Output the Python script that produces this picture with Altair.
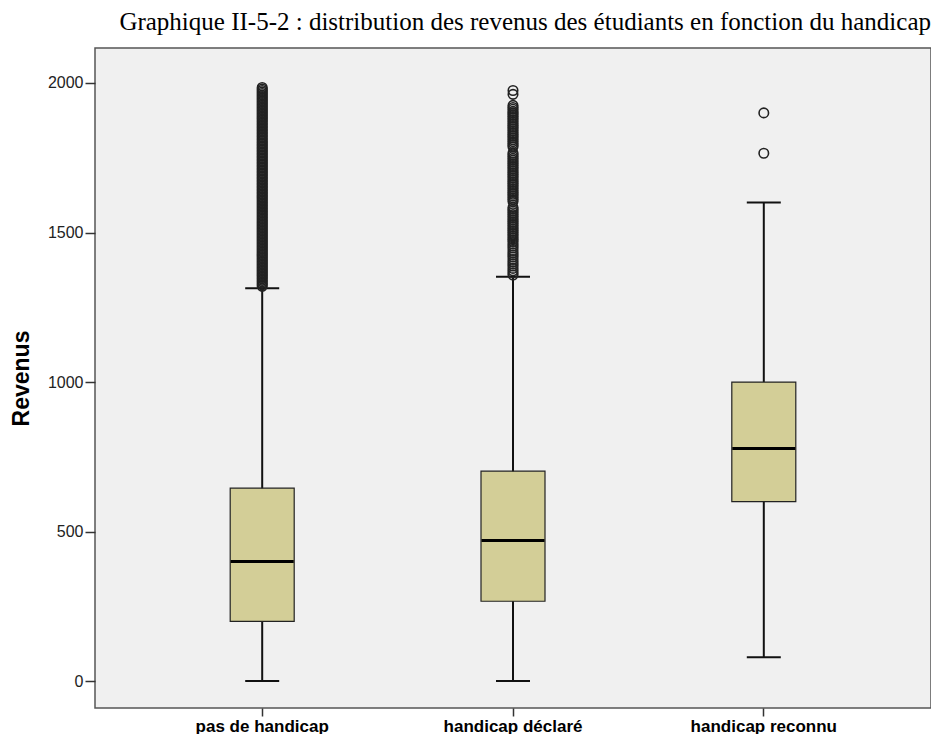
import altair as alt
import pandas as pd

categories = ["pas de handicap", "handicap déclaré", "handicap reconnu"]
whisker_low = [0, 0, 80]
q1 = [200, 267, 600]
median = [400, 470, 778]
q3 = [645, 702, 1000]
whisker_high = [1314, 1352, 1600]

outliers_pas = [1320, 1325, 1330, 1335, 1340, 1345, 1350, 1355, 1360, 1365, 1370,
                1375, 1380, 1385, 1390, 1395, 1400, 1405, 1410, 1415, 1420, 1425,
                1430, 1435, 1440, 1445, 1450, 1455, 1460, 1465, 1470, 1475, 1480,
                1485, 1490, 1495, 1500, 1505, 1510, 1515, 1520, 1525, 1530, 1535,
                1540, 1545, 1550, 1555, 1560, 1565, 1570, 1575, 1580, 1585, 1590,
                1595, 1600, 1605, 1610, 1615, 1620, 1625, 1630, 1635, 1640, 1645,
                1650, 1655, 1660, 1665, 1670, 1675, 1680, 1685, 1690, 1695, 1700,
                1705, 1710, 1715, 1720, 1725, 1730, 1735, 1740, 1745, 1750, 1755,
                1760, 1765, 1770, 1775, 1780, 1785, 1790, 1795, 1800, 1805, 1810,
                1815, 1820, 1825, 1830, 1835, 1840, 1845, 1850, 1855, 1860, 1865,
                1870, 1875, 1880, 1885, 1890, 1895, 1900, 1905, 1910, 1915, 1920,
                1925, 1930, 1935, 1940, 1945, 1950, 1955, 1960, 1965, 1970, 1975,
                1980, 1985]
outliers_declare = [1975, 1962, 1925, 1918, 1912, 1905, 1900, 1894, 1888, 1882,
                    1876, 1870, 1864, 1858, 1852, 1846, 1840, 1834, 1828, 1822,
                    1816, 1810, 1804, 1798, 1792, 1786, 1766, 1760, 1754, 1748,
                    1742, 1736, 1730, 1724, 1718, 1712, 1706, 1700, 1694, 1688,
                    1682, 1676, 1670, 1664, 1658, 1652, 1646, 1640, 1634, 1628,
                    1622, 1616, 1610, 1604, 1584, 1578, 1572, 1566, 1560, 1554,
                    1548, 1542, 1536, 1530, 1524, 1518, 1512, 1506, 1500, 1494,
                    1488, 1482, 1476, 1470, 1462, 1455, 1448, 1440, 1432, 1425,
                    1418, 1410, 1402, 1395, 1388, 1380, 1372, 1365, 1358]
outliers_reconnu = [1900, 1765]

stats = pd.DataFrame({
    "cat": categories, "low": whisker_low, "q1": q1, "med": median,
    "q3": q3, "high": whisker_high,
})
out = pd.DataFrame({
    "cat": [categories[0]] * len(outliers_pas)
    + [categories[1]] * len(outliers_declare)
    + [categories[2]] * len(outliers_reconnu),
    "val": outliers_pas + outliers_declare + outliers_reconnu,
})

xscale = alt.Scale(domain=categories, paddingInner=0, paddingOuter=1 / 6)
yscale = alt.Scale(domain=[-90, 2117], nice=False, zero=False)

xenc = alt.X("cat:N", scale=xscale, sort=categories,
             axis=alt.Axis(title=None, labelAngle=0, labelFont="Liberation Sans",
                           labelFontSize=17, labelFontWeight="bold",
                           labelColor="#000", labelPadding=2, tickSize=8,
                           tickWidth=1.5, tickColor="#333", domain=False))
yaxis = alt.Axis(title="Revenus", values=[0, 500, 1000, 1500, 2000], format="d",
                 labelFont="Liberation Sans", labelFontSize=16, labelColor="#222",
                 labelPadding=2, tickSize=10, tickWidth=1.5, tickColor="#333",
                 domain=False, grid=False, titleFont="Liberation Sans",
                 titleFontSize=23, titleFontWeight="bold", titleColor="#000",
                 titlePadding=14)

base = alt.Chart(stats)

whisker = base.mark_rule(color="#111", strokeWidth=2).encode(
    x=xenc,
    y=alt.Y("low:Q", scale=yscale, axis=yaxis),
    y2="high:Q",
)
cap_low = base.mark_tick(color="#111", size=34, thickness=2, opacity=1,
                         orient="horizontal").encode(
    x=alt.X("cat:N", scale=xscale, sort=categories), y=alt.Y("low:Q", scale=yscale))
cap_high = base.mark_tick(color="#111", size=34, thickness=2, opacity=1,
                          orient="horizontal").encode(
    x=alt.X("cat:N", scale=xscale, sort=categories), y=alt.Y("high:Q", scale=yscale))
box = base.mark_bar(size=64, fill="#d3ce97", stroke="#222", strokeWidth=1.2,
                    opacity=1).encode(
    x=alt.X("cat:N", scale=xscale, sort=categories),
    y=alt.Y("q1:Q", scale=yscale), y2="q3:Q")
med = base.mark_tick(color="#000", size=63, thickness=3, opacity=1,
                     orient="horizontal").encode(
    x=alt.X("cat:N", scale=xscale, sort=categories), y=alt.Y("med:Q", scale=yscale))
pts = alt.Chart(out).mark_point(shape="circle", filled=False, size=90,
                                stroke="#222", strokeWidth=1.6, opacity=1).encode(
    x=alt.X("cat:N", scale=xscale, sort=categories), y=alt.Y("val:Q", scale=yscale))

chart = alt.layer(whisker, cap_low, cap_high, box, med, pts).properties(
    width=836, height=660,
    autosize=alt.AutoSizeParams(type="none"),
    padding={"left": 87, "top": 40, "right": 0, "bottom": 26},
    title=alt.TitleParams(
        "Graphique II-5-2 : distribution des revenus des étudiants en fonction du handicap",
        font="Liberation Serif", fontSize=25, fontWeight="normal", color="#000",
        anchor="end", dx=0, baseline="alphabetic", offset=0, dy=7),
).configure_view(fill="#f0f0f0", stroke="#555", strokeWidth=1.5)

chart.save("out.html", embed_options={"renderer": "svg", "actions": False})
